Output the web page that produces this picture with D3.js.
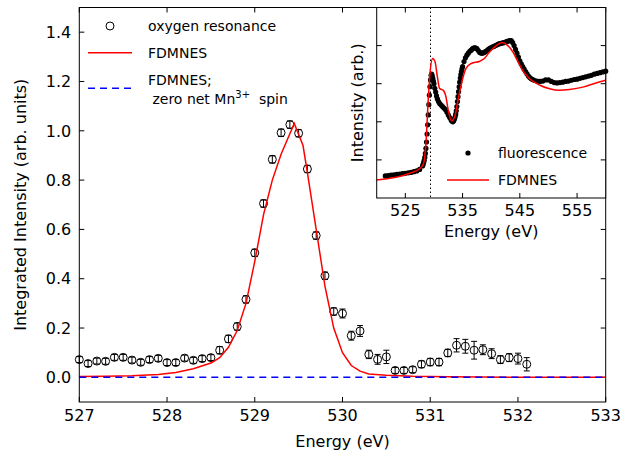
<!DOCTYPE html>
<html><head><meta charset="utf-8">
<script src="https://cdn.jsdelivr.net/npm/d3@7/dist/d3.min.js"></script>
<style>body{margin:0;background:#fff}text{font-family:"DejaVu Sans",sans-serif;fill:#000}</style>
</head><body><svg id="c" width="634" height="456"></svg>
<script>
// ---- main data: oxygen resonance (energy eV, intensity, error)
const oxE = [527.0,527.1,527.2,527.3,527.4,527.5,527.6,527.7,527.8,527.9,528.0,528.1,528.2,528.3,528.4,528.5,528.6,528.7,528.8,528.9,529.0,529.1,529.2,529.3,529.4,529.5,529.6,529.7,529.8,529.9,530.0,530.1,530.2,530.3,530.4,530.5,530.6,530.7,530.8,530.9,531.0,531.1,531.2,531.3,531.4,531.5,531.6,531.7,531.8,531.9,532.0,532.1];
const oxI = [0.072,0.056,0.066,0.065,0.081,0.081,0.070,0.061,0.072,0.077,0.060,0.060,0.078,0.069,0.076,0.080,0.110,0.156,0.206,0.316,0.505,0.705,0.884,0.992,1.025,0.990,0.845,0.575,0.412,0.267,0.259,0.169,0.188,0.093,0.073,0.083,0.028,0.028,0.031,0.053,0.062,0.062,0.099,0.130,0.126,0.110,0.112,0.096,0.072,0.080,0.076,0.053];
const oxErr = [0.012,0.012,0.012,0.012,0.012,0.012,0.012,0.012,0.012,0.012,0.012,0.012,0.012,0.012,0.012,0.012,0.015,0.015,0.015,0.015,0.015,0.015,0.015,0.015,0.015,0.015,0.015,0.015,0.015,0.015,0.018,0.018,0.022,0.017,0.020,0.027,0.012,0.012,0.012,0.014,0.015,0.015,0.015,0.027,0.028,0.036,0.020,0.020,0.016,0.016,0.022,0.027];
// FDMNES calculation (main)
const fdE = [527.0,527.3,527.6,527.9,528.1,528.3,528.5,528.6,528.7,528.8,528.9,529.0,529.1,529.2,529.3,529.45,529.55,529.6,529.7,529.8,529.9,530.0,530.1,530.2,530.3,530.5,530.8,531.2,531.6,533.0];
const fdI = [0.003,0.004,0.006,0.012,0.020,0.035,0.058,0.080,0.122,0.190,0.300,0.470,0.660,0.800,0.905,1.030,0.940,0.830,0.600,0.370,0.200,0.100,0.048,0.025,0.014,0.008,0.004,0.002,0.001,0.000];
// FDMNES, zero net Mn3+ spin
const zeroE = [527.0,533.0];
const zeroI = [0.0,0.0];
const xTicks = [527,528,529,530,531,532,533];
const yTicks = [0.0,0.2,0.4,0.6,0.8,1.0,1.2,1.4];

// ---- inset data: fluorescence
const flE = [521.5,522,522.5,523,523.5,524,524.5,525,525.5,526,526.5,527,527.5,528.0,528.1,528.2,528.3,528.4,528.5,528.6,528.7,528.8,528.9,529.0,529.1,529.2,529.3,529.4,529.5,529.6,529.7,529.8,529.9,
  530.0,530.15,530.3,530.45,530.6,530.8,531.0,531.25,531.5,531.75,532.0,532.25,532.5,532.75,533.0,533.15,533.3,533.45,533.6,533.7,533.8,533.9,534.0,534.1,534.2,534.3,534.4,534.5,534.6,534.7,534.8,534.9,
  535.0,535.25,535.5,535.75,536.0,536.25,536.5,536.75,537.0,537.25,537.5,537.75,538.0,538.25,538.5,538.75,539.0,539.25,539.5,539.75,540.0,540.25,540.5,540.75,541.0,541.25,541.5,541.75,542.0,542.25,542.5,542.75,543.0,543.25,543.5,543.75,
  544.0,544.25,544.5,544.75,545.0,545.25,545.5,545.75,546.0,546.25,546.5,546.75,547.0,547.25,547.5,548.0,548.5,549.0,549.5,550.0,550.5,551.0,551.5,552.0,552.5,553.0,553.5,554.0,554.5,555.0,555.5,556.0,556.5,557.0,557.5,558.0,558.5,559.0,559.5,560.0];
const flI = [0.58,0.59,0.60,0.61,0.62,0.63,0.64,0.65,0.66,0.67,0.69,0.71,0.75,0.84,0.88,0.93,0.99,1.07,1.17,1.30,1.47,1.68,1.92,2.18,2.45,2.70,2.92,3.10,3.22,3.25,3.20,3.14,3.07,
  3.00,2.88,2.78,2.68,2.60,2.53,2.48,2.44,2.40,2.36,2.32,2.26,2.18,2.11,2.05,2.02,2.00,2.03,2.08,2.13,2.20,2.29,2.40,2.53,2.66,2.79,2.92,3.04,3.15,3.24,3.32,3.39,
  3.45,3.58,3.68,3.75,3.80,3.85,3.88,3.92,3.94,3.94,3.92,3.87,3.82,3.80,3.80,3.82,3.84,3.87,3.90,3.93,3.95,3.97,3.98,4.00,4.02,4.04,4.05,4.06,4.07,4.08,4.09,4.11,4.12,4.13,4.13,4.08,
  4.00,3.90,3.80,3.70,3.60,3.52,3.45,3.38,3.32,3.26,3.20,3.16,3.13,3.11,3.09,3.07,3.06,3.07,3.10,3.10,3.06,3.03,3.02,3.03,3.04,3.06,3.07,3.09,3.11,3.12,3.14,3.16,3.18,3.20,3.22,3.25,3.27,3.29,3.31,3.33];
// inset FDMNES
const ifE = [520.0,525.8,527.6,528.2,528.6,529.0,529.3,529.77,530.2,530.6,531.0,531.6,532.1,532.5,533.1,533.7,534.2,534.8,535.6,536.5,538.0,538.8,539.7,540.9,541.9,542.9,543.8,544.7,545.5,546.7,548.5,550.2,551.9,553.7,556.0,558.3,560.0];
const ifI = [0.47,0.65,0.78,0.91,1.43,2.57,3.26,3.66,3.57,3.18,2.87,2.83,2.65,2.30,2.02,2.17,2.57,3.00,3.40,3.53,3.59,3.66,3.83,4.00,4.08,4.00,3.83,3.57,3.35,3.13,2.96,2.87,2.83,2.85,2.91,3.02,3.09];
const insetXTicks = [525,535,545,555];
const insetYTicks = [1,2,3,4];
const edgeE = 529.4;

const svg = d3.select("#c");
svg.append("rect").attr("width",634).attr("height",456).attr("fill","#fff");

// ---------- main plot
const L=79.3,R=605.7,T=7.5,B=402;
const x = d3.scaleLinear().domain([527,533]).range([L,R]);
const y = d3.scaleLinear().domain([-0.1,1.5]).range([B,T]);
const g = svg.append("g");

const tl = 5;
const ax = g.append("g").attr("stroke","#000").attr("stroke-width",1);
xTicks.forEach(t=>{
  ax.append("line").attr("x1",x(t)).attr("x2",x(t)).attr("y1",B).attr("y2",B-tl);
  ax.append("line").attr("x1",x(t)).attr("x2",x(t)).attr("y1",T).attr("y2",T+tl);
});
yTicks.forEach(t=>{
  ax.append("line").attr("x1",L).attr("x2",L+tl).attr("y1",y(t)).attr("y2",y(t));
  ax.append("line").attr("x1",R).attr("x2",R-tl).attr("y1",y(t)).attr("y2",y(t));
});
g.selectAll("text.xt").data(xTicks).join("text").attr("class","xt")
  .attr("x",d=>x(d)).attr("y",B+19).attr("text-anchor","middle").attr("font-size",16).text(d=>d);
g.selectAll("text.yt").data(yTicks).join("text").attr("class","yt")
  .attr("x",L-8).attr("y",d=>y(d)).attr("dy","0.36em").attr("text-anchor","end").attr("font-size",16).text(d=>d.toFixed(1));
g.append("text").attr("x",(L+R)/2).attr("y",447).attr("text-anchor","middle").attr("font-size",16).text("Energy (eV)");
g.append("text").attr("transform",`translate(20,${(T+B)/2}) rotate(-90)`).attr("dy","0.36em")
  .attr("text-anchor","middle").attr("font-size",16).text("Integrated Intensity (arb. units)");

const pts = oxE.map((e,i)=>({e, v:oxI[i], s:oxErr[i]}));
const eb = g.append("g").attr("stroke","#000").attr("stroke-width",1);
pts.forEach(p=>{
  eb.append("line").attr("x1",x(p.e)).attr("x2",x(p.e)).attr("y1",y(p.v-p.s)).attr("y2",y(p.v+p.s));
  [p.v-p.s,p.v+p.s].forEach(v=>eb.append("line").attr("x1",x(p.e)-3).attr("x2",x(p.e)+3).attr("y1",y(v)).attr("y2",y(v)));
});
g.append("g").selectAll("circle").data(pts).join("circle")
  .attr("cx",d=>x(d.e)).attr("cy",d=>y(d.v)).attr("r",4).attr("fill","none").attr("stroke","#000").attr("stroke-width",1);

const line = d3.line().x(d=>x(d[0])).y(d=>y(d[1]));
g.append("path").attr("d",line(fdE.map((e,i)=>[e,fdI[i]]))).attr("fill","none").attr("stroke","#ff0000").attr("stroke-width",1.5);
g.append("path").attr("d",line(zeroE.map((e,i)=>[e,zeroI[i]]))).attr("fill","none").attr("stroke","#0000ff").attr("stroke-width",1.5).attr("stroke-dasharray","7,5");

g.append("rect").attr("x",L).attr("y",T).attr("width",R-L).attr("height",B-T).attr("fill","none").attr("stroke","#000").attr("stroke-width",1);

const lg = g.append("g").attr("font-size",14);
lg.append("circle").attr("cx",110).attr("cy",26).attr("r",4).attr("fill","none").attr("stroke","#000");
lg.append("text").attr("x",148).attr("y",31).text("oxygen resonance");
lg.append("line").attr("x1",88).attr("x2",132).attr("y1",52.7).attr("y2",52.7).attr("stroke","#ff0000").attr("stroke-width",1.5);
lg.append("text").attr("x",148).attr("y",58).text("FDMNES");
lg.append("line").attr("x1",88).attr("x2",132).attr("y1",88.3).attr("y2",88.3).attr("stroke","#0000ff").attr("stroke-width",1.5).attr("stroke-dasharray","7,5");
lg.append("text").attr("x",148).attr("y",85).text("FDMNES;");
const t2 = lg.append("text").attr("x",148).attr("y",104).attr("xml:space","preserve");
t2.append("tspan").text(" zero net Mn");
t2.append("tspan").attr("dy",-6).attr("font-size",10).text("3+");
t2.append("tspan").attr("dy",6).text("  spin");

// ---------- inset
const iL=376.7,iR=605.7,iT=7.5,iB=198;
const ix = d3.scaleLinear().domain([520,560]).range([iL,iR]);
const iy = d3.scaleLinear().domain([0,5]).range([iB,iT]);
const ig = svg.append("g");
ig.append("rect").attr("x",iL).attr("y",iT).attr("width",iR-iL).attr("height",iB-iT).attr("fill","#fff");
const iax = ig.append("g").attr("stroke","#000").attr("stroke-width",1);
insetXTicks.forEach(t=>{
  iax.append("line").attr("x1",ix(t)).attr("x2",ix(t)).attr("y1",iB).attr("y2",iB-tl);
  iax.append("line").attr("x1",ix(t)).attr("x2",ix(t)).attr("y1",iT).attr("y2",iT+tl);
});
insetYTicks.forEach(t=>{
  iax.append("line").attr("x1",iL).attr("x2",iL+tl).attr("y1",iy(t)).attr("y2",iy(t));
  iax.append("line").attr("x1",iR).attr("x2",iR-tl).attr("y1",iy(t)).attr("y2",iy(t));
});
ig.selectAll("text.ixt").data(insetXTicks).join("text").attr("class","ixt")
  .attr("x",d=>ix(d)).attr("y",iB+18).attr("text-anchor","middle").attr("font-size",16).text(d=>d);
ig.append("text").attr("x",(iL+iR)/2).attr("y",237).attr("text-anchor","middle").attr("font-size",16).text("Energy (eV)");
ig.append("text").attr("transform",`translate(357,${(iT+iB)/2}) rotate(-90)`).attr("dy","0.36em")
  .attr("text-anchor","middle").attr("font-size",16).text("Intensity (arb.)");

ig.append("line").attr("x1",ix(edgeE)).attr("x2",ix(edgeE)).attr("y1",iT).attr("y2",iB)
  .attr("stroke","#000").attr("stroke-width",1).attr("stroke-dasharray","1.5,2.5");
ig.append("g").selectAll("circle").data(flE.map((e,i)=>[e,flI[i]])).join("circle")
  .attr("cx",d=>ix(d[0])).attr("cy",d=>iy(d[1])).attr("r",2.6).attr("fill","#000");
const iline = d3.line().x(d=>ix(d[0])).y(d=>iy(d[1])).curve(d3.curveMonotoneX);
ig.append("path").attr("d",iline(ifE.map((e,i)=>[e,ifI[i]]))).attr("fill","none").attr("stroke","#ff0000").attr("stroke-width",1.5);
ig.append("rect").attr("x",iL).attr("y",iT).attr("width",iR-iL).attr("height",iB-iT).attr("fill","none").attr("stroke","#000").attr("stroke-width",1);

const ilg = ig.append("g").attr("font-size",14);
ilg.append("circle").attr("cx",468).attr("cy",153).attr("r",2.6).attr("fill","#000");
ilg.append("text").attr("x",498).attr("y",158).text("fluorescence");
ilg.append("line").attr("x1",447).attr("x2",489).attr("y1",180).attr("y2",180).attr("stroke","#ff0000").attr("stroke-width",1.5);
ilg.append("text").attr("x",498).attr("y",185).text("FDMNES");
</script></body></html>
